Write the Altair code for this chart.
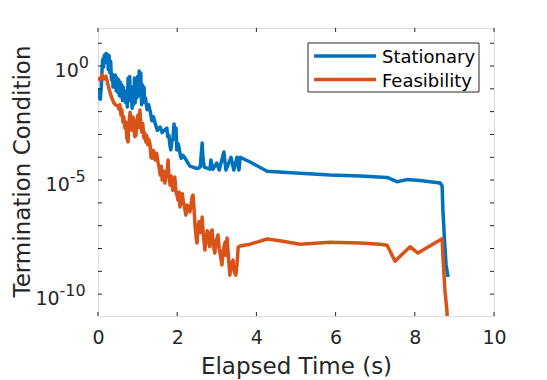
import altair as alt
import pandas as pd

# ---------------- data ----------------
time_stationary = [0.00, 0.02, 0.04, 0.06, 0.08, 0.10, 0.12, 0.14, 0.16, 0.18, 0.20, 0.22, 0.24, 0.26,
                   0.28, 0.30, 0.32, 0.34, 0.36, 0.38, 0.40, 0.42, 0.44, 0.46, 0.48, 0.50, 0.52, 0.54,
                   0.56, 0.58, 0.60, 0.62, 0.64, 0.66, 0.68, 0.70, 0.72, 0.74, 0.76, 0.78, 0.80, 0.82,
                   0.84, 0.86, 0.88, 0.90, 0.92, 0.94, 0.96, 0.98, 1.00, 1.02, 1.04, 1.06, 1.08, 1.10,
                   1.12, 1.14, 1.16, 1.18, 1.20, 1.24, 1.28, 1.32, 1.36, 1.40, 1.44, 1.50, 1.57, 1.62,
                   1.69, 1.74, 1.76, 1.79, 1.82, 1.84, 1.87, 1.89, 1.92, 1.94, 1.97, 1.99, 2.02, 2.05,
                   2.08, 2.10, 2.15, 2.20, 2.26, 2.32, 2.38, 2.45, 2.52, 2.58, 2.61, 2.63, 2.65, 2.68,
                   2.83, 2.85, 2.90, 3.00, 3.06, 3.18, 3.23, 3.36, 3.43, 3.51, 3.56, 3.59, 3.84, 4.27,
                   4.67, 5.10, 5.86, 6.62, 7.30, 7.55, 7.80, 8.13, 8.64, 8.69, 8.71, 8.75, 8.79, 8.84]
stationary = [0.072, 0.04, 0.09, 0.035, 0.11, 0.6, 2.0, 0.9, 3.0, 1.4, 3.5, 1.5, 3.2, 0.7,
              2.8, 0.5, 1.6, 0.25, 0.45, 0.12, 0.35, 0.15, 0.4, 0.08, 0.3, 0.07, 0.25, 0.05,
              0.2, 0.045, 0.15, 0.03, 0.12, 0.05, 0.08, 0.025, 0.05, 0.016, 0.3, 0.05, 0.35, 0.03,
              0.12, 0.014, 0.1, 0.02, 0.3, 0.025, 0.2, 0.04, 0.35, 0.05, 0.6, 0.1, 0.5, 0.02,
              0.15, 0.03, 0.12, 0.025, 0.04, 0.012, 0.02, 0.01, 0.004, 0.006, 3.2e-3, 1.5e-3, 2.1e-3, 1.2e-3,
              1.6e-3, 1.9e-3, 8e-4, 9.3e-4, 3e-4, 2.1e-4, 6e-4, 5.6e-4, 2.9e-3, 1.5e-3, 1.9e-3, 2.1e-4, 4e-4, 2.5e-4,
              1.2e-4, 9.1e-5, 1.2e-4, 9.1e-5, 6e-5, 4.1e-5, 3.8e-5, 3.4e-5, 3.2e-5, 3.7e-5, 1.5e-4, 4.2e-4, 1e-4, 3.7e-5,
              3.0e-5, 7.6e-5, 3.0e-5, 5.6e-5, 2.75e-5, 1.7e-4, 2.75e-5, 1.0e-4, 2.75e-5, 1.0e-4, 2.75e-5, 1.0e-4, 6.2e-5, 2.45e-5,
              2.2e-5, 2.0e-5, 1.66e-5, 1.5e-5, 1.3e-5, 8.5e-6, 1.05e-5, 9.5e-6, 7.4e-6, 5.5e-6, 4.8e-7, 2.3e-8, 1.9e-9, 5.6e-10]

time_feasibility = [0.01, 0.05, 0.10, 0.15, 0.20, 0.25, 0.30, 0.35, 0.40, 0.45, 0.50, 0.53, 0.55, 0.58,
                    0.60, 0.63, 0.65, 0.68, 0.70, 0.73, 0.76, 0.78, 0.81, 0.83, 0.86, 0.88, 0.91, 0.93,
                    0.96, 0.98, 1.01, 1.03, 1.06, 1.08, 1.11, 1.13, 1.16, 1.18, 1.21, 1.23, 1.26, 1.28,
                    1.31, 1.34, 1.36, 1.40, 1.44, 1.48, 1.52, 1.55, 1.57, 1.60, 1.62, 1.65, 1.69, 1.72,
                    1.75, 1.77, 1.79, 1.82, 1.85, 1.89, 1.92, 1.94, 1.97, 2.00, 2.02, 2.05, 2.07, 2.10,
                    2.13, 2.15, 2.18, 2.22, 2.25, 2.27, 2.30, 2.32, 2.35, 2.38, 2.40, 2.43, 2.45, 2.48,
                    2.50, 2.53, 2.55, 2.58, 2.60, 2.63, 2.66, 2.70, 2.73, 2.76, 2.78, 2.82, 2.85, 2.88,
                    2.91, 2.95, 2.98, 3.03, 3.06, 3.10, 3.13, 3.16, 3.21, 3.23, 3.26, 3.30, 3.33, 3.36,
                    3.41, 3.44, 3.48, 3.51, 3.54, 3.59, 3.84, 4.27, 4.67, 5.10, 5.86, 6.62, 7.12, 7.30,
                    7.50, 7.88, 8.08, 8.69, 8.71, 8.76, 8.81, 8.82]
feasibility = [0.33, 0.245, 0.41, 0.27, 0.36, 0.16, 0.072, 0.04, 0.024, 0.0195, 0.018, 0.0129, 0.02, 0.0071,
               0.012, 0.0035, 0.006, 0.0019, 0.0035, 6.9e-4, 4.7e-4, 3e-3, 9.5e-3, 2e-3, 1.55e-3, 6e-3, 3.2e-3, 8e-4,
               9.3e-4, 4e-3, 7.1e-3, 2e-3, 0.0117, 3e-3, 1.26e-3, 3e-3, 6.9e-4, 1.2e-3, 4.7e-4, 9e-4, 3.5e-4, 6e-4,
               4.2e-4, 1e-4, 9.1e-5, 2e-4, 7.6e-5, 1.5e-4, 5.6e-5, 3e-5, 1.66e-5, 4e-5, 1e-5, 2.5e-5, 7.4e-6, 2e-5,
               3e-5, 7.6e-5, 1.5e-5, 6e-6, 1.5e-5, 3.6e-6, 8e-6, 1.35e-5, 3e-6, 2e-6, 1.3e-6, 3e-6, 6.6e-7, 1.5e-6,
               2.5e-6, 1.3e-6, 7e-7, 2.9e-7, 8e-7, 4.8e-7, 7e-7, 4e-7, 8e-7, 2e-6, 2.2e-6, 4e-7, 1.07e-7, 3e-8,
               1.74e-8, 8e-8, 1.5e-7, 1.45e-7, 5e-8, 2.4e-7, 4e-8, 8.5e-9, 3e-8, 6e-8, 2.9e-8, 1.2e-8, 5e-8, 6.5e-8,
               1.5e-8, 6.3e-9, 2e-8, 3.9e-8, 1e-8, 4e-9, 1.9e-9, 8e-9, 1.9e-8, 5e-9, 2.9e-8, 3e-9, 6.8e-10, 2e-9,
               3.1e-9, 1e-9, 6.8e-10, 2e-9, 1.15e-8, 1.3e-8, 1.55e-8, 2.6e-8, 2.1e-8, 1.55e-8, 1.9e-8, 1.74e-8, 1.55e-8, 1.4e-8,
               2.8e-9, 1.2e-8, 6.3e-9, 2.7e-8, 4.7e-9, 1.5e-10, 2.0e-11, 9e-12]

series_names = ["Stationary", "Feasibility"]
series_colors = ["#0072BD", "#D95319"]

x_ticks = [0, 2, 4, 6, 8, 10]
y_ticks = [1e1, 1e0, 1e-1, 1e-2, 1e-3, 1e-4, 1e-5, 1e-6, 1e-7, 1e-8, 1e-9, 1e-10]
y_label_values = [1e0, 1e-5, 1e-10]
y_label_exponents = ["0", "-5", "-10"]

# ---------------- layout ----------------
W, H = 396, 288
FONT = "DejaVu Sans"
INK = "#262626"

df_s = pd.DataFrame({"t": time_stationary, "v": stationary})
df_f = pd.DataFrame({"t": time_feasibility, "v": feasibility})
df_xt = pd.DataFrame({"t": x_ticks})
df_yt = pd.DataFrame({"v": y_ticks})
df_yl = pd.DataFrame({"v": y_label_values, "e": y_label_exponents})

xscale = alt.Scale(domain=[0, 10], nice=False, zero=False)
yscale = alt.Scale(type="log", domain=[1.1e-11, 46.4], nice=False)

x_axis = alt.Axis(values=x_ticks, ticks=False, domain=False, grid=False, labelFlush=False,
                  labelOverlap=False, labelFontSize=19, labelFont=FONT, labelColor=INK,
                  labelPadding=12, title="Elapsed Time (s)", titleFontSize=23, titleFont=FONT,
                  titleColor=INK, titleFontWeight="normal", titleX=W / 2, titleY=57,
                  titleAlign="center", titleBaseline="alphabetic")
y_axis = alt.Axis(labels=False, ticks=False, domain=False, grid=False,
                  title="Termination Condition", titleFontSize=23, titleFont=FONT,
                  titleColor=INK, titleFontWeight="normal", titleX=-69, titleY=143,
                  titleAlign="center", titleBaseline="alphabetic", titleAngle=270)

X = lambda f: alt.X(f, scale=xscale, axis=x_axis, title="Elapsed Time (s)")
Y = lambda f: alt.Y(f, scale=yscale, axis=y_axis, title="Termination Condition")

line_blue = alt.Chart(df_s).mark_line(strokeWidth=3.5, clip=True, strokeJoin="round",
                                      color=series_colors[0]).encode(
    x=X("t:Q"), y=Y("v:Q"), order="t:Q")
line_orange = alt.Chart(df_f).mark_line(strokeWidth=3.5, clip=True, strokeJoin="round",
                                        color=series_colors[1]).encode(
    x=X("t:Q"), y=Y("v:Q"), order="t:Q")

# inward ticks (MATLAB style) on all four sides
TL = 4
ytick_left = alt.Chart(df_yt).mark_rule(color=INK, strokeWidth=1).encode(
    y=Y("v:Q"), x=alt.value(0), x2=alt.value(TL))
ytick_right = alt.Chart(df_yt).mark_rule(color=INK, strokeWidth=1).encode(
    y=Y("v:Q"), x=alt.value(W - TL), x2=alt.value(W))
xtick_bottom = alt.Chart(df_xt).mark_rule(color=INK, strokeWidth=1).encode(
    x=X("t:Q"), y=alt.value(H - TL), y2=alt.value(H))
xtick_top = alt.Chart(df_xt).mark_rule(color=INK, strokeWidth=1).encode(
    x=X("t:Q"), y=alt.value(0), y2=alt.value(TL))

# y tick labels as 10 with superscript exponent
BX = "-9 - 10.2*length(replace(datum.e, '-', '')) - (indexof(datum.e, '-') >= 0 ? 9 : 0)"
ylab_base = alt.Chart(df_yl).transform_calculate(bx=BX).mark_text(
    text="10", align="right", baseline="alphabetic", dy=11, fontSize=19,
    font=FONT, color=INK).encode(
    x=alt.X("bx:Q", scale=None), y=Y("v:Q"))
ylab_exp = alt.Chart(df_yl).transform_calculate(bx=BX).mark_text(
    align="left", baseline="alphabetic", dy=1.5, fontSize=16,
    font=FONT, color=INK).encode(
    x=alt.X("bx:Q", scale=None), y=Y("v:Q"), text="e:N")

# legend box
df_one = pd.DataFrame({"k": [0]})
leg_box = alt.Chart(df_one).mark_rect(fill="white", stroke=INK, strokeWidth=1).encode(
    x=alt.value(210), x2=alt.value(381), y=alt.value(15), y2=alt.value(64))
leg_layers = []
for i, (name, col) in enumerate(zip(series_names, series_colors)):
    ly = 28 + 23.5 * i
    d = pd.DataFrame({"name": [name]})
    leg_layers.append(alt.Chart(d).mark_rule(color=col, strokeWidth=3.5).encode(
        x=alt.value(216), x2=alt.value(278), y=alt.value(ly)))
    leg_layers.append(alt.Chart(d).mark_text(align="left", baseline="alphabetic", fontSize=18,
                                             font=FONT, color="black").encode(
        x=alt.value(284), y=alt.value(ly + 7), text="name:N"))

chart = alt.layer(
    line_blue, line_orange, ytick_left, ytick_right, xtick_bottom, xtick_top,
    ylab_base, ylab_exp, leg_box, *leg_layers
).properties(
    width=W, height=H,
    autosize=alt.AutoSizeParams(type="none"),
    padding={"left": 90, "top": 20, "right": 45, "bottom": 64},
    background="white",
).configure_view(stroke=INK, strokeWidth=1).configure(font=FONT)

chart.save("out.html", embed_options={"renderer": "svg", "actions": False})
